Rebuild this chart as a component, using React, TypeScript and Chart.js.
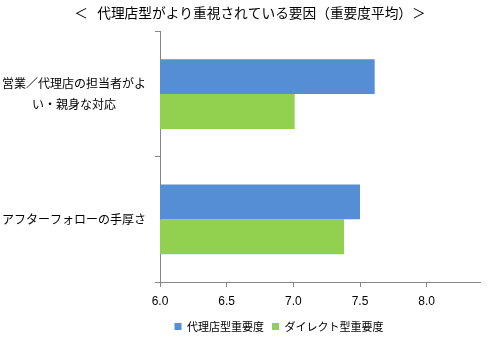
import React, { useEffect, useRef } from "react";
import { Chart, registerables } from "chart.js";

Chart.register(...registerables);

const titleText = "＜   代理店型がより重視されている要因（重要度平均）＞";
const categories: (string | string[])[] = [
  ["営業／代理店の担当者がよ", "い・親身な対応"],
  "アフターフォローの手厚さ",
];
const seriesNames = ["代理店型重要度", "ダイレクト型重要度"];
const agencyValues = [7.61, 7.5];
const directValues = [7.01, 7.38];
const xTicks = [6.0, 6.5, 7.0, 7.5, 8.0];
const xMin = 6.0;
const xMax = 8.4;

const AXIS = "#868686";
const JP = "'Noto Sans CJK JP', 'Noto Sans', sans-serif";

const boxShift = {
  id: "boxShift",
  afterLayout(chart: any) {
    if (chart.legend) {
      chart.legend.left += 39;
      chart.legend.right += 39;
    }
    if (chart.titleBlock) {
      chart.titleBlock.left += 10;
      chart.titleBlock.right += 10;
    }
  },
};

export default function App() {
  const ref = useRef<HTMLCanvasElement>(null);
  useEffect(() => {
    if (!ref.current) return;
    const chart = new Chart(ref.current, {
      type: "bar",
      data: {
        labels: categories as any,
        datasets: [
          {
            label: seriesNames[0],
            data: agencyValues,
            backgroundColor: "#558ED5",
            categoryPercentage: 0.556,
            barPercentage: 1,
          },
          {
            label: seriesNames[1],
            data: directValues,
            backgroundColor: "#92D050",
            categoryPercentage: 0.556,
            barPercentage: 1,
          },
        ],
      },
      options: {
        indexAxis: "y",
        animation: false,
        responsive: false,
        layout: { padding: { left: 0, right: 17, top: 0, bottom: 18 } },
        plugins: {
          title: {
            display: true,
            text: titleText,
            color: "#000",
            font: { family: JP, size: 13.7, weight: "normal" },
            padding: { top: 5, bottom: 10 },
          },
          legend: {
            position: "bottom",
            labels: {
              color: "#000",
              font: { family: JP, size: 11 },
              boxWidth: 7,
              boxHeight: 7,
              padding: 8,
            },
          },
          tooltip: { enabled: false },
        },
        scales: {
          x: {
            type: "linear",
            min: xMin,
            max: xMax,
            afterBuildTicks: (scale: any) => {
              scale.ticks = xTicks.map((v) => ({ value: v }));
            },
            afterFit: (scale: any) => {
              scale.height = 31;
            },
            ticks: {
              color: "#000",
              font: { family: "'Liberation Sans', Arial, sans-serif", size: 12 },
              padding: 7,
              callback: (v: any) => Number(v).toFixed(1),
            },
            grid: { drawOnChartArea: false, tickLength: 5, color: AXIS },
            border: { color: AXIS, width: 1 },
          },
          y: {
            type: "category",
            offset: true,
            afterFit: (scale: any) => {
              scale.width = 160;
            },
            ticks: {
              color: "#000",
              font: { family: JP, size: 12, lineHeight: 1.8 },
              padding: 9,
              crossAlign: "center",
            },
            grid: { offset: true, drawOnChartArea: false, tickLength: 5, color: AXIS },
            border: { color: AXIS, width: 1 },
          },
        },
      },
      plugins: [boxShift],
    });
    return () => chart.destroy();
  }, []);
  return (
    <div style={{ position: "fixed", left: 0, top: 0, width: 497, height: 360, background: "#fff" }}>
      <canvas ref={ref} width={497} height={360} />
    </div>
  );
}
